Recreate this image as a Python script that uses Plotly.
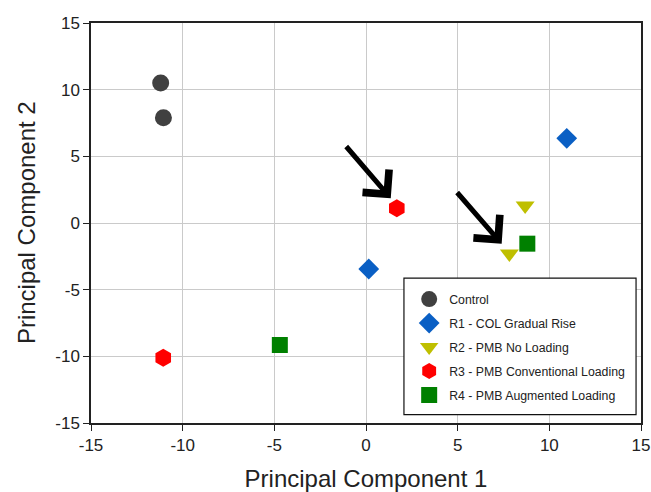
import plotly.graph_objects as go

# Data
control_x = [-11.2, -11.05]
control_y = [10.5, 7.9]
r1_x = [0.15, 10.95]
r1_y = [-3.45, 6.35]
r2_x = [8.68, 7.82]
r2_y = [1.3, -2.3]
r3_x = [1.68, -11.06]
r3_y = [1.1, -10.1]
r4_x = [8.8, -4.7]
r4_y = [-1.55, -9.15]

series_names = ["Control", "R1 - COL Gradual Rise", "R2 - PMB No Loading",
                "R3 - PMB Conventional Loading", "R4 - PMB Augmented Loading"]

# arrows: (tail_x, tail_y, head_x, head_y) in data units
arrow1 = (-1.15, 5.85, 1.35, 1.85)
arrow2 = (4.9, 2.4, 7.4, -1.55)

tick_vals = [-15, -10, -5, 0, 5, 10, 15]
tick_text = ["-15", "-10", "-5", "0", "5", "10", "15"]

fig = go.Figure()
specs = [
    (control_x, control_y, "circle", "#404040", 17),
    (r1_x, r1_y, "diamond", "#0A5FC4", 16),
    (r2_x, r2_y, "triangle-down", "#BFBF00", 16.5),
    (r3_x, r3_y, "hexagon", "#FF0000", 18),
    (r4_x, r4_y, "square", "#008000", 16),
]
for i, (xs, ys, sym, col, sz) in enumerate(specs):
    fig.add_trace(go.Scatter(
        x=xs, y=ys, mode="markers", name=series_names[i],
        legendgroup=f"g{i}",
        marker=dict(symbol=sym, color=col, size=sz, line=dict(width=0)),
    ))

for (tx, ty, hx, hy) in (arrow1, arrow2):
    fig.add_annotation(
        x=hx, y=hy, ax=tx, ay=ty, xref="x", yref="y", axref="x", ayref="y",
        showarrow=True, arrowhead=4, arrowsize=1.35, arrowwidth=5,
        arrowcolor="black", text="",
    )

# y-axis title placed as a rotated annotation so it can sit close to the edge
fig.add_annotation(
    text="Principal Component 2", xref="paper", yref="paper",
    x=-0.118, y=0.5, xanchor="center", yanchor="middle", textangle=-90,
    showarrow=False,
    font=dict(family="Liberation Sans, Arial", size=24, color="#222"),
)

axis_common = dict(
    range=[-15, 15], tickvals=tick_vals, ticktext=tick_text,
    ticks="outside", ticklen=6, automargin=False, ticklabeloverflow="allow",
    tickwidth=1.2, tickcolor="#222", showline=True, linecolor="#222",
    linewidth=1.5, mirror=True, showgrid=True, gridcolor="#CACACA",
    gridwidth=1, zeroline=False,
    tickfont=dict(family="Liberation Sans, Arial", size=17, color="#222"),
)

# legend frame (drawn as a box so it can have the reference's padding)
legend_box = dict(type="rect", xref="paper", yref="paper",
                  x0=0.569, x1=0.991, y0=0.021, y1=0.362,
                  line=dict(color="#111", width=1.2), fillcolor="white",
                  layer="above")

fig.update_layout(
    width=651, height=492,
    margin=dict(l=91, r=10, t=23, b=69, autoexpand=False),
    paper_bgcolor="white", plot_bgcolor="white",
    shapes=[legend_box],
    xaxis=dict(axis_common, title=dict(text="Principal Component 1",
               font=dict(family="Liberation Sans, Arial", size=24, color="#222"),
               standoff=16)),
    yaxis=dict(axis_common),
    showlegend=True,
    legend=dict(
        x=0.5785, y=0.346, xanchor="left", yanchor="top",
        borderwidth=0, bgcolor="rgba(0,0,0,0)",
        font=dict(family="Liberation Sans, Arial", size=12.3, color="#222"),
        tracegroupgap=5, traceorder="grouped",
    ),
)

# remove the browser's default 8px body margin so the figure fills the window
fig.write_html("out.html",
               config={"displayModeBar": False},
               post_script="document.body.style.margin='0px';")
